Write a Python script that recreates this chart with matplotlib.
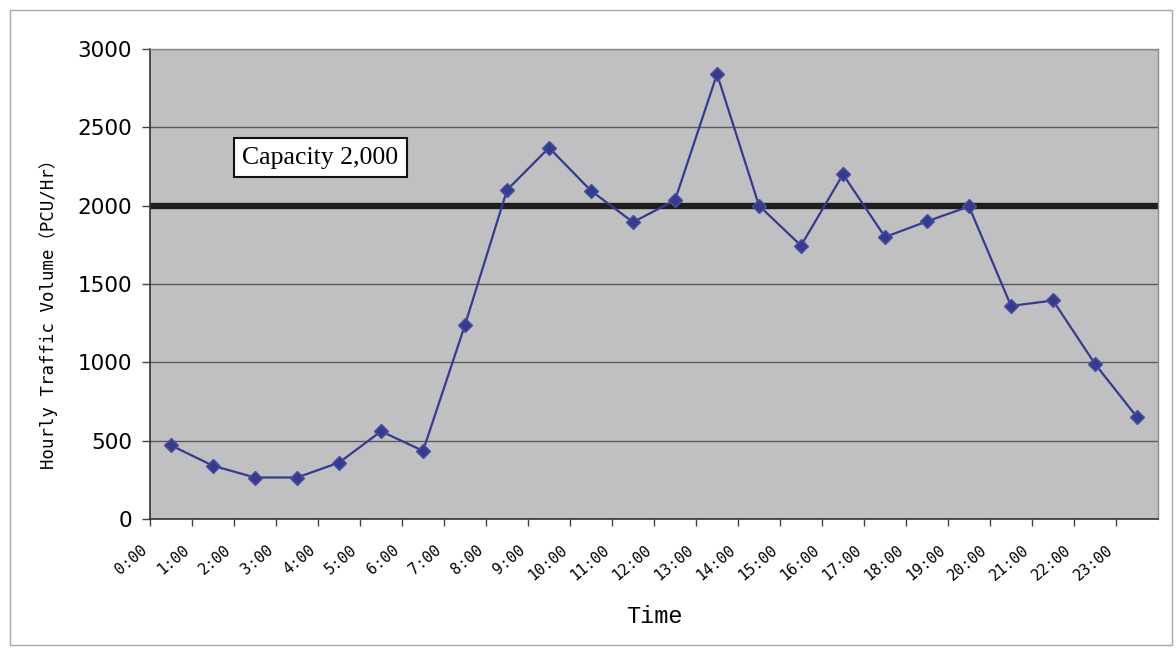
import matplotlib
matplotlib.use("Agg")
import matplotlib.pyplot as plt
from matplotlib.patches import Rectangle
from matplotlib.transforms import ScaledTranslation

hours = [f"{h}:00" for h in range(24)]
volume = [470, 340, 265, 265, 360, 560, 435, 1240, 2100, 2370, 2095, 1895,
          2035, 2840, 2000, 1745, 2200, 1800, 1900, 1995, 1360, 1395, 990, 650]
capacity = 2000
capacity_label = "Capacity 2,000"
yticks = [0, 500, 1000, 1500, 2000, 2500, 3000]

fig = plt.figure(figsize=(11.76, 6.5), dpi=100)
fig.patch.set_facecolor("white")
fig.patches.append(Rectangle((0.0085, 0.008), 0.988, 0.977, transform=fig.transFigure,
                             fill=False, edgecolor="#a8a8a8", linewidth=1.0))

ax = fig.add_axes([0.1276, 0.2015, 0.8571, 0.7231])
ax.set_facecolor("#c0c0c2")

n = len(volume)
xs = [i + 0.5 for i in range(n)]
ax.set_xlim(0, n)
ax.set_ylim(0, 3000)
ax.set_yticks(yticks)
ax.yaxis.grid(True, color="#5a5a5a", linewidth=1.0)
ax.set_axisbelow(True)

ax.axhline(capacity, color="#1e1e1e", linewidth=4.6, zorder=2)
ax.plot(xs, volume, color="#363b8e", linewidth=1.6, marker="D", markersize=7.5,
        markerfacecolor="#363b8e", markeredgecolor="#4a50a0", zorder=3)

ax.set_xticks(range(n))
ax.set_xticklabels(hours, rotation=40, ha="right", fontsize=11,
                   family="DejaVu Sans Mono")
offset = ScaledTranslation(6 / 100, 0, fig.dpi_scale_trans)
for lab in ax.get_xticklabels():
    lab.set_transform(lab.get_transform() + offset)
ax.tick_params(axis="x", length=5, width=1, color="#444444", pad=12)
ax.tick_params(axis="y", length=6, width=1, color="#444444", pad=7, labelsize=15.5)

for s in ["top", "right"]:
    ax.spines[s].set_color("#8a8a8a")
    ax.spines[s].set_linewidth(1.0)
for s in ["left", "bottom"]:
    ax.spines[s].set_color("#333333")
    ax.spines[s].set_linewidth(1.2)

ax.set_ylabel("Hourly Traffic Volume\uff08PCU/Hr\uff09", fontsize=12.5,
              family=["DejaVu Sans Mono", "Noto Sans CJK JP"])
ax.yaxis.set_label_coords(-0.091, 0.445)
ax.set_xlabel("Time", fontsize=17, family="Liberation Mono")
ax.xaxis.set_label_coords(0.5, -0.183)

ax.text(0.169, 0.769, capacity_label, transform=ax.transAxes, ha="center", va="center",
        fontsize=18.5, family="Liberation Serif", zorder=4,
        bbox=dict(boxstyle="square,pad=0.33", facecolor="white", edgecolor="#111111",
                  linewidth=1.5))

fig.savefig("out.png", dpi=100)
